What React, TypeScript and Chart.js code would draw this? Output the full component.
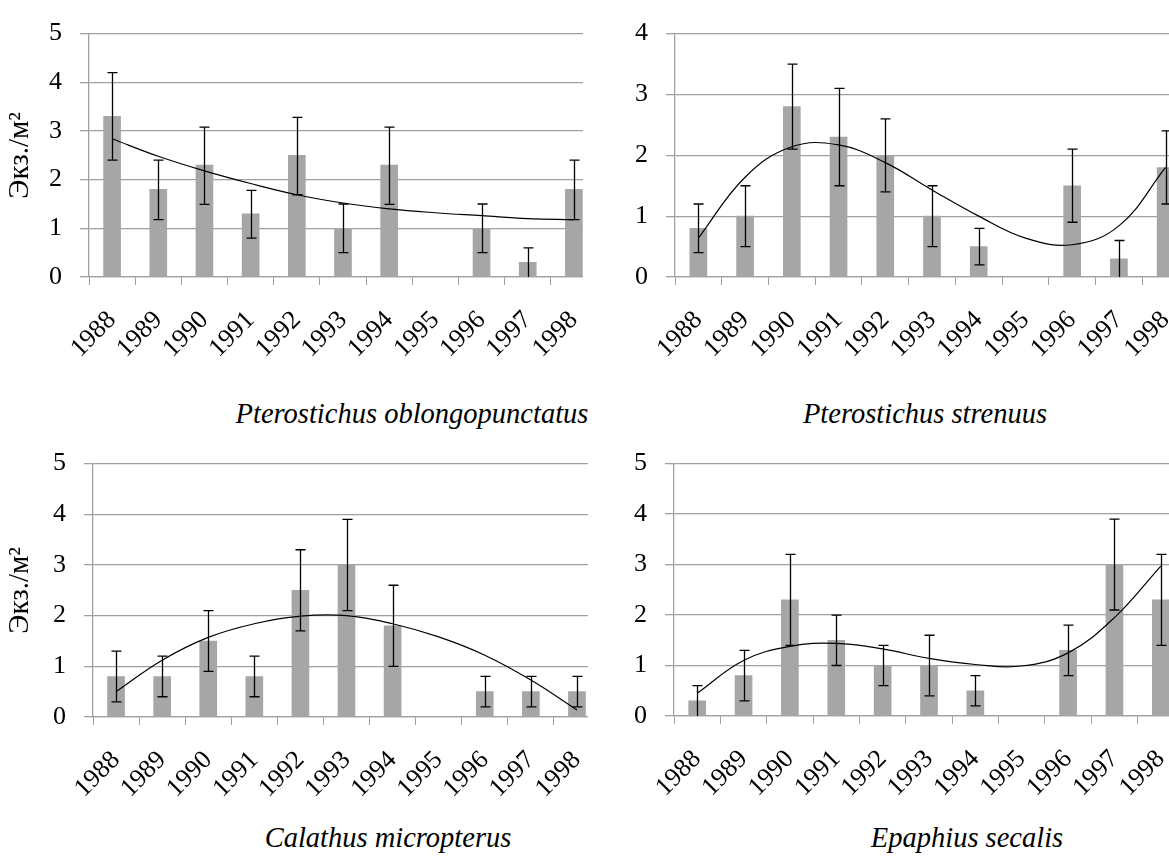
import React, { useEffect, useRef } from "react";
import { Chart, registerables } from "chart.js";

Chart.register(...registerables);

const years = ["1988", "1989", "1990", "1991", "1992", "1993", "1994", "1995", "1996", "1997", "1998"];
const yAxisTitle = "Экз./м²";

// Pterostichus oblongopunctatus
const oblongMean = [3.3, 1.8, 2.3, 1.3, 2.5, 1.0, 2.3, null, 1.0, 0.3, 1.8];
const oblongHigh = [4.2, 2.4, 3.08, 1.78, 3.28, 1.5, 3.08, null, 1.5, 0.6, 2.4];
const oblongLow = [2.4, 1.18, 1.49, 0.8, 1.69, 0.5, 1.49, null, 0.5, 0, 1.18];
const oblongTrend = [2.84, 2.48, 2.18, 1.92, 1.69, 1.52, 1.4, 1.32, 1.26, 1.2, 1.18];

// Pterostichus strenuus
const strenuusMean = [0.8, 1.0, 2.8, 2.3, 2.0, 1.0, 0.5, null, 1.5, 0.3, 1.8];
const strenuusHigh = [1.2, 1.5, 3.5, 3.1, 2.6, 1.5, 0.8, null, 2.1, 0.6, 2.4];
const strenuusLow = [0.4, 0.5, 2.1, 1.5, 1.4, 0.5, 0.2, null, 0.9, 0, 1.2];
const strenuusTrend = [0.64, 1.64, 2.14, 2.17, 1.88, 1.43, 1.0, 0.64, 0.53, 0.84, 1.8];

// Calathus micropterus
const calathusMean = [0.8, 0.8, 1.5, 0.8, 2.5, 3.0, 1.8, null, 0.5, 0.5, 0.5];
const calathusHigh = [1.3, 1.2, 2.1, 1.2, 3.3, 3.9, 2.6, null, 0.8, 0.8, 0.8];
const calathusLow = [0.3, 0.4, 0.9, 0.4, 1.7, 2.1, 1.0, null, 0.2, 0.2, 0.2];
const calathusTrend = [0.5, 1.12, 1.57, 1.84, 1.99, 2.0, 1.84, 1.58, 1.22, 0.73, 0.14];

// Epaphius secalis
const epaphiusMean = [0.3, 0.8, 2.3, 1.5, 1.0, 1.0, 0.5, null, 1.3, 3.0, 2.3];
const epaphiusHigh = [0.6, 1.3, 3.2, 2.0, 1.4, 1.6, 0.8, null, 1.8, 3.9, 3.2];
const epaphiusLow = [0, 0.3, 1.4, 1.0, 0.6, 0.4, 0.2, null, 0.8, 2.1, 1.4];
const epaphiusTrend = [0.45, 1.1, 1.38, 1.44, 1.33, 1.14, 1.02, 0.99, 1.25, 1.95, 2.97];

const FONT = "'Liberation Serif', 'Times New Roman', serif";
const GRID = "#a0a0a0";
const BAR = "#a6a6a6";

const panels = [
  {
    name: "Pterostichus oblongopunctatus",
    mean: oblongMean, high: oblongHigh, low: oblongLow, trend: oblongTrend,
    yMax: 5, showTitle: true,
    left: 0, top: 0, clipW: 583, canvasW: 640, canvasH: 375,
    axisX: 89, topY: 24, zeroY: 277, plotW: 508,
    labelX: 412, labelY: 414,
  },
  {
    name: "Pterostichus strenuus",
    mean: strenuusMean, high: strenuusHigh, low: strenuusLow, trend: strenuusTrend,
    yMax: 4, showTitle: false,
    left: 600, top: 0, clipW: 569, canvasW: 640, canvasH: 375,
    axisX: 75, topY: 24, zeroY: 277, plotW: 514,
    labelX: 925, labelY: 414,
  },
  {
    name: "Calathus micropterus",
    mean: calathusMean, high: calathusHigh, low: calathusLow, trend: calathusTrend,
    yMax: 5, showTitle: true,
    left: 0, top: 430, clipW: 588, canvasW: 640, canvasH: 385,
    axisX: 93, topY: 33, zeroY: 287, plotW: 507,
    labelX: 388, labelY: 838,
  },
  {
    name: "Epaphius secalis",
    mean: epaphiusMean, high: epaphiusHigh, low: epaphiusLow, trend: epaphiusTrend,
    yMax: 5, showTitle: false,
    left: 600, top: 430, clipW: 569, canvasW: 640, canvasH: 385,
    axisX: 74, topY: 32, zeroY: 286, plotW: 510,
    labelX: 967, labelY: 838,
  },
];

const errorBarPlugin = {
  id: "errorBars",
  afterDatasetsDraw(chart: any, _args: any, opts: any) {
    const { ctx } = chart;
    const x = chart.scales.x;
    const y = chart.scales.y;
    const highs: (number | null)[] = opts.high || [];
    const lows: (number | null)[] = opts.low || [];
    ctx.save();
    ctx.strokeStyle = "#000";
    ctx.lineWidth = 1.3;
    for (let i = 0; i < highs.length; i++) {
      const h = highs[i];
      const l = lows[i];
      if (h == null || l == null) continue;
      const px = Math.round(x.getPixelForValue(i)) + 0.5;
      const yh = y.getPixelForValue(h);
      const yl = y.getPixelForValue(l);
      ctx.beginPath();
      ctx.moveTo(px, yh);
      ctx.lineTo(px, yl);
      ctx.moveTo(px - 5, yh);
      ctx.lineTo(px + 5, yh);
      if (l > 0) {
        ctx.moveTo(px - 5, yl);
        ctx.lineTo(px + 5, yl);
      }
      ctx.stroke();
    }
    ctx.restore();
  },
};

function Panel({ cfg }: { cfg: any }) {
  const ref = useRef<HTMLCanvasElement>(null);
  useEffect(() => {
    let chart: any = null;
    let cancelled = false;
    const make = () => {
      if (cancelled || !ref.current) return;
      chart = new Chart(ref.current as HTMLCanvasElement, {
        type: "bar",
        data: {
          labels: years,
          datasets: [
            {
              type: "line" as const,
              data: cfg.trend,
              borderColor: "#000",
              borderWidth: 1.2,
              pointRadius: 0,
              tension: 0.4,
              fill: false,
              order: 1,
            },
            {
              type: "bar" as const,
              data: cfg.mean,
              backgroundColor: BAR,
              barThickness: 17,
              order: 2,
            },
          ],
        } as any,
        options: {
          responsive: false,
          animation: false,
          layout: {
            padding: {
              left: 0,
              top: cfg.topY,
              right: cfg.canvasW - cfg.axisX - cfg.plotW,
              bottom: 0,
            },
          },
          plugins: {
            legend: { display: false },
            tooltip: { enabled: false },
            errorBars: { high: cfg.high, low: cfg.low },
          } as any,
          scales: {
            x: {
              offset: true,
              afterFit: (s: any) => {
                s.height = cfg.canvasH - cfg.zeroY;
              },
              grid: {
                display: true,
                drawOnChartArea: false,
                drawTicks: true,
                tickLength: 8,
                color: GRID,
                offset: true,
              },
              border: { display: true, color: GRID, width: 1.3 },
              ticks: {
                autoSkip: false,
                minRotation: 45,
                maxRotation: 45,
                color: "#000",
                padding: 20,
                font: { family: FONT, size: 26 },
              },
            },
            y: {
              min: 0,
              max: cfg.yMax,
              afterFit: (s: any) => {
                s.width = cfg.axisX;
              },
              grid: {
                color: GRID,
                lineWidth: 1.3,
                drawTicks: true,
                tickLength: 9,
              },
              border: { display: true, color: GRID, width: 1.3 },
              ticks: {
                stepSize: 1,
                color: "#000",
                padding: 18,
                font: { family: FONT, size: 26 },
              },
              title: {
                display: cfg.showTitle,
                text: yAxisTitle,
                color: "#000",
                font: { family: FONT, size: 29 },
                padding: { top: 3, bottom: 0 },
              },
            },
          },
        } as any,
        plugins: [errorBarPlugin],
      });
    };
    const fonts: any = (document as any).fonts;
    if (fonts && fonts.load) {
      Promise.all([
        fonts.load("26px 'Liberation Serif'"),
        fonts.load("29px 'Liberation Serif'", yAxisTitle),
        fonts.load("italic 28px 'Liberation Serif'"),
      ])
        .catch(() => null)
        .then(make);
    } else {
      make();
    }
    return () => {
      cancelled = true;
      if (chart) chart.destroy();
    };
  }, []);
  return (
    <div
      style={{
        position: "absolute",
        left: cfg.left,
        top: cfg.top,
        width: cfg.clipW,
        height: cfg.canvasH,
        overflow: "hidden",
      }}
    >
      <canvas
        ref={ref}
        width={cfg.canvasW}
        height={cfg.canvasH}
        style={{ display: "block", width: cfg.canvasW, height: cfg.canvasH }}
      />
    </div>
  );
}

export default function App() {
  return (
    <div
      style={{
        position: "absolute",
        left: 0,
        top: 0,
        width: 1169,
        height: 868,
        overflow: "hidden",
        background: "#fff",
      }}
    >
      {panels.map((p) => (
        <Panel key={p.name} cfg={p} />
      ))}
      {panels.map((p) => (
        <div
          key={p.name + "-label"}
          style={{
            position: "absolute",
            left: p.labelX,
            top: p.labelY,
            transform: "translate(-50%, -50%)",
            whiteSpace: "nowrap",
            fontFamily: FONT,
            fontStyle: "italic",
            fontSize: 28.5,
            color: "#000",
          }}
        >
          {p.name}
        </div>
      ))}
    </div>
  );
}
